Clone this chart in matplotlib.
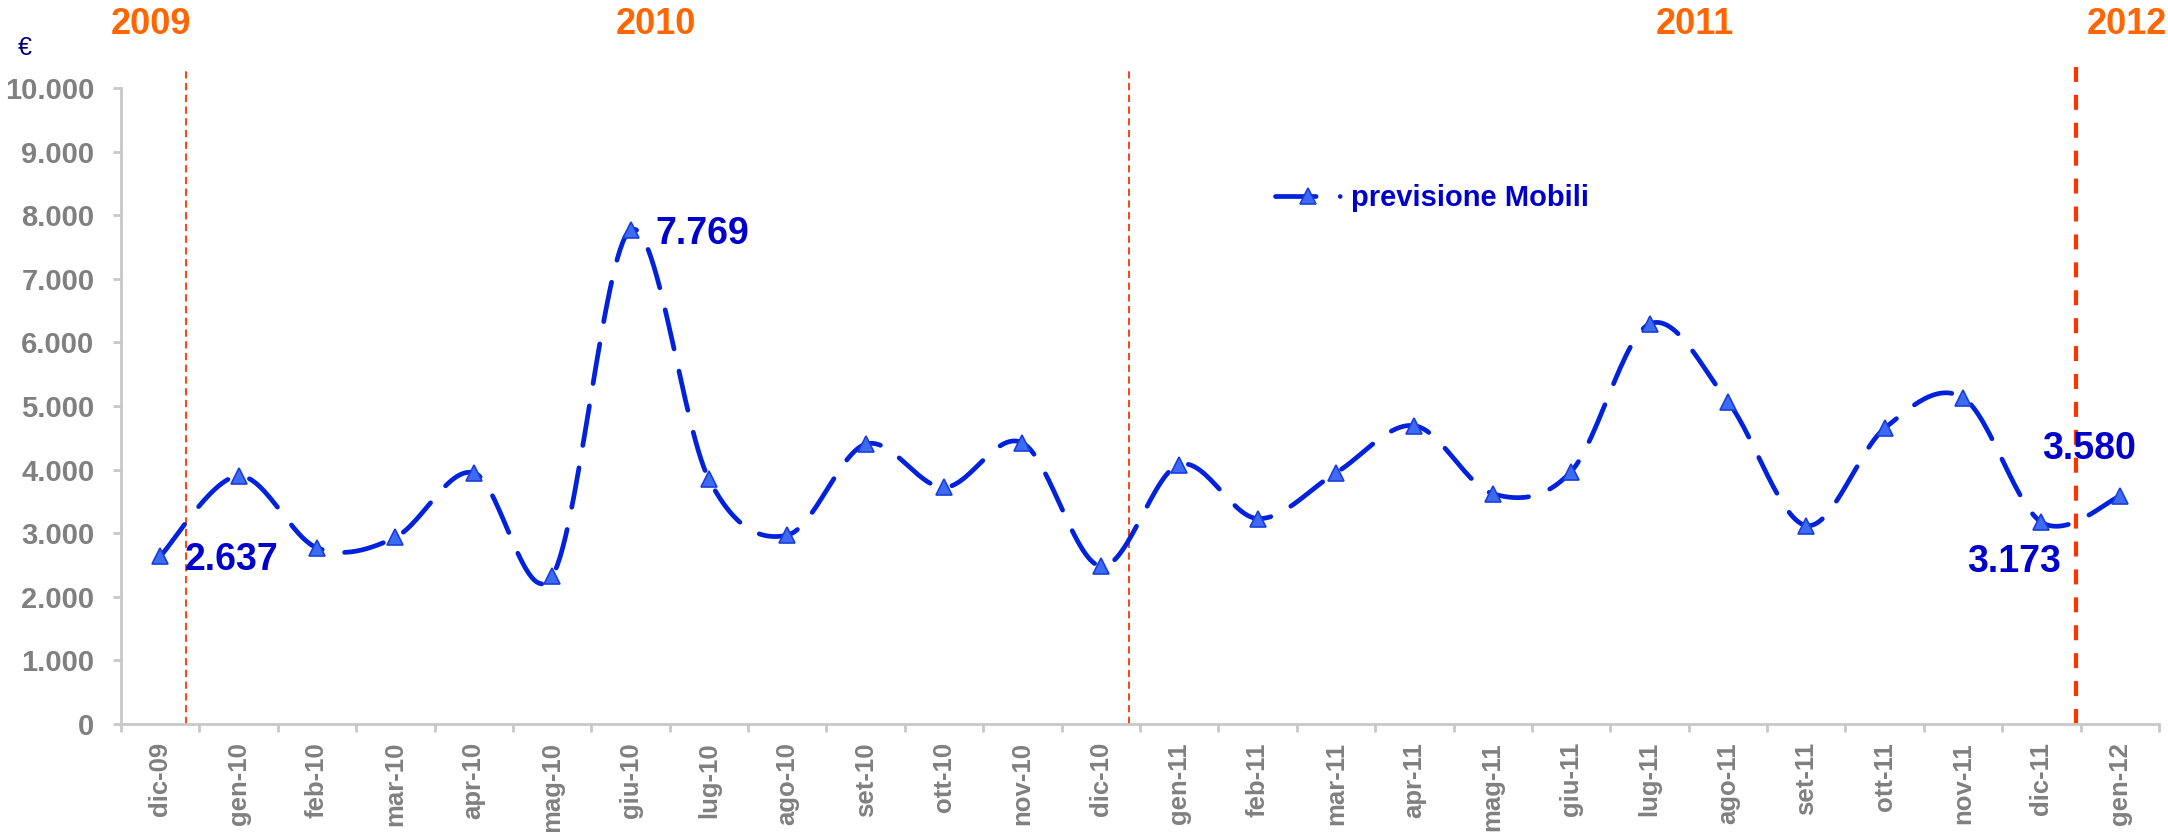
import numpy as np
import matplotlib
matplotlib.use("Agg")
import matplotlib.pyplot as plt
from matplotlib.lines import Line2D
from matplotlib.ticker import FuncFormatter

months = ["dic-09", "gen-10", "feb-10", "mar-10", "apr-10", "mag-10", "giu-10",
          "lug-10", "ago-10", "set-10", "ott-10", "nov-10", "dic-10", "gen-11",
          "feb-11", "mar-11", "apr-11", "mag-11", "giu-11", "lug-11", "ago-11",
          "set-11", "ott-11", "nov-11", "dic-11", "gen-12"]
forecast = [2637, 3900, 2770, 2935, 3950, 2320, 7769, 3850, 2970, 4400, 3720,
            4420, 2480, 4080, 3230, 3950, 4690, 3620, 3970, 6290, 5070, 3120,
            4650, 5130, 3173, 3580]
labelled = {0: "2.637", 6: "7.769", 24: "3.173", 25: "3.580"}
year_names = ["2009", "2010", "2011", "2012"]
year_breaks = [0.33, 12.36, 24.44]

plt.rcParams['font.family'] = ['Liberation Sans', 'DejaVu Sans']
plt.rcParams['font.weight'] = 'bold'

BLUE = "#0022DD"
LABEL_BLUE = "#0000CC"
GREY = "#808080"
ORANGE = "#FF6600"
W, H = 2168, 832


def smooth(xs, ys, n=30):
    # bezier smoothing like the spreadsheet "smoothed line" option
    xs = np.asarray(xs, float)
    ys = np.asarray(ys, float)
    px, py = [], []
    for i in range(len(xs) - 1):
        i0 = max(i - 1, 0)
        i3 = min(i + 2, len(xs) - 1)
        c1x = xs[i] + (xs[i + 1] - xs[i0]) / 6
        c1y = ys[i] + (ys[i + 1] - ys[i0]) / 6
        c2x = xs[i + 1] - (xs[i3] - xs[i]) / 6
        c2y = ys[i + 1] - (ys[i3] - ys[i]) / 6
        t = np.linspace(0, 1, n, endpoint=(i == len(xs) - 2))
        b0 = (1 - t) ** 3
        b1 = 3 * (1 - t) ** 2 * t
        b2 = 3 * (1 - t) * t ** 2
        b3 = t ** 3
        px.append(b0 * xs[i] + b1 * c1x + b2 * c2x + b3 * xs[i + 1])
        py.append(b0 * ys[i] + b1 * c1y + b2 * c2y + b3 * ys[i + 1])
    return np.concatenate(px), np.concatenate(py)


fig = plt.figure(figsize=(W / 100, H / 100), dpi=100)
ax = fig.add_axes([121 / W, (H - 724) / H, (2159 - 121) / W, (724 - 88) / H])

x = np.arange(len(months))
sx, sy = smooth(x, forecast)
ax.plot(sx, sy, color=BLUE, lw=3.4, dashes=(8.5, 4.8), dash_capstyle="round", zorder=3)
ax.plot(x, forecast, ls="none", marker="^", ms=12, mfc="#3D6BF5",
        mec="#1A3FD9", mew=1.2, zorder=4)

for i, txt in labelled.items():
    if i == 0 or i == 6:
        off, ha = (18, -3), "left"
    elif i == 24:
        off, ha = (-20, -29), "center"
    else:
        off, ha = (-22, 34), "center"
    ax.annotate(txt, (x[i], forecast[i]), xytext=off, textcoords="offset points",
                ha=ha, va="center", fontsize=27, fontweight="bold",
                color=LABEL_BLUE, zorder=5)

for k, xb in enumerate(year_breaks):
    last = k == len(year_breaks) - 1
    ax.axvline(xb, ymin=0, ymax=(724 - 67) / (724 - 88), color="#FF3300",
               lw=3 if last else 1.3, dashes=(3.6, 3.1) if last else (4, 2.5),
               clip_on=False, zorder=2)

ax.set_xlim(-0.5, len(months) - 0.5)
ax.set_ylim(0, 10000)
ax.set_yticks(np.arange(0, 10001, 1000))
ax.yaxis.set_major_formatter(FuncFormatter(lambda v, p: f"{int(v):,}".replace(",", ".")))
ax.set_xticks(np.arange(-0.5, len(months), 1), minor=False)
ax.set_xticklabels([])
ax.set_xticks(x, minor=True)
ax.set_xticklabels(months, minor=True, rotation=90, fontsize=18.5,
                   fontweight="bold", color=GREY)
ax.tick_params(axis="x", which="major", length=6, width=2, color="#C8C8C8")
ax.tick_params(axis="x", which="minor", length=0, pad=13)
ax.tick_params(axis="y", length=6, width=2, color="#C8C8C8", pad=13,
               labelsize=21, labelcolor=GREY)
for lab in ax.get_yticklabels():
    lab.set_fontweight("bold")
for s in ["top", "right"]:
    ax.spines[s].set_visible(False)
for s in ["left", "bottom"]:
    ax.spines[s].set_color("#C8C8C8")
    ax.spines[s].set_linewidth(2)

handle = Line2D([], [], color=BLUE, lw=3.4, dashes=(8.6, 5.1, 0.01, 10),
                dash_capstyle="round", marker="^", ms=12, mfc="#3D6BF5",
                mec="#1A3FD9", mew=1.2)
leg = ax.legend([handle], ["previsione Mobili"], loc="center left",
                bbox_to_anchor=(1275 / W, 1 - 198 / H), bbox_transform=fig.transFigure,
                frameon=False, borderpad=0, borderaxespad=0, handlelength=2.26,
                handletextpad=0.34, numpoints=1,
                prop={"size": 21, "weight": "bold"})
for t in leg.get_texts():
    t.set_color(LABEL_BLUE)

year_x = [151, 656, 1695, 2127]
for name, xp in zip(year_names, year_x):
    fig.text(xp / W, 1 - 25 / H, name, ha="center", va="center", fontsize=26,
             fontweight="bold", color=ORANGE)
fig.text(25 / W, 1 - 48 / H, "€", ha="center", va="center", fontsize=18,
         fontweight="normal", color="#000080")

fig.savefig("out.png", dpi=100)
